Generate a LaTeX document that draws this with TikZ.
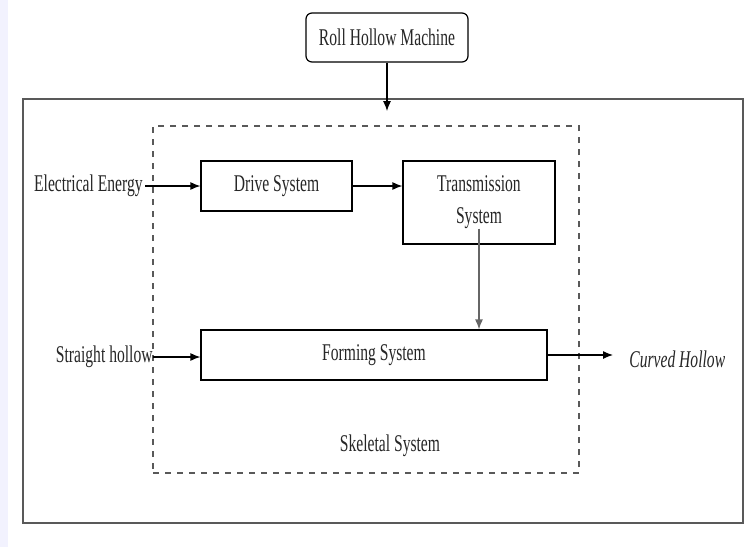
\documentclass[tikz,border=0pt]{standalone}
\usepackage{fontspec}
\setmainfont{Liberation Serif}[FakeStretch=0.65]
\usetikzlibrary{arrows.meta}

\tikzset{block/.style={draw, fill=white, line width=0.6pt, minimum height=25pt, inner sep=2pt}}
\tikzset{frame/.style={draw=black!65, line width=0.9pt, minimum width=360pt, minimum height=212pt}}
\tikzset{skeleton/.style={draw=black!65, dashed, line width=0.6pt, minimum width=213pt, minimum height=173.5pt}}
\tikzset{flow/.style={-{Latex[length=5pt, width=4pt]}, line width=0.6pt}}

\begin{document}
\begin{tikzpicture}[x=0.5pt, y=-0.5pt, every node/.style={align=center, font=\fontsize{12}{13}\selectfont, text=black!85}]
  \useasboundingbox (0,0) rectangle (745,547);
  \fill[black!8!blue!5!white] (0,0) rectangle (8,547);

  % frames
  \node[frame] (Frame) at (383,311) {};
  \node[skeleton] (Skeletal) at (366,299.5) {};
  \node (SkeletalLabel) at (390,446) {Skeletal System};

  % machine on top
  \node[block, rounded corners=3pt, minimum width=81pt, minimum height=24.5pt] (Machine) at (387,37.5) {Roll Hollow Machine};

  % inner systems
  \node[block, minimum width=75.5pt] (Drive) at (276.5,186) {\raisebox{-2pt}{Drive System}};
  \node[block, minimum width=76pt, minimum height=41.5pt] (Transmission) at (479,202.5) {Transmission\\[3pt]System};
  \node[block, minimum width=173pt] (Forming) at (374,355) {Forming System};

  % inputs and output
  \node[anchor=east, inner sep=1pt] (Energy) at (145,186) {Electrical Energy};
  \node[anchor=east, inner sep=0pt] (Straight) at (153,357) {Straight hollow};
  \node[anchor=west, inner sep=1pt] (Curved) at (627,359) {\itshape Curved Hollow};

  \draw[flow] (Machine) -- ([yshift=-6.5pt]Machine.south |- Frame.north);
  \draw[flow] (Energy) -- (Energy -| Drive.west);
  \draw[flow] (Drive.east) -- (Drive.east -| Transmission.west);
  \draw[flow, black!60] ([yshift=8pt]Transmission.south) -- (Transmission.south |- Forming.north);
  \draw[flow] (Straight) -- (Straight -| Forming.west);
  \draw[flow] (Forming.east) -- ([xshift=-7pt]Forming.east -| Curved.west);
\end{tikzpicture}
\end{document}
